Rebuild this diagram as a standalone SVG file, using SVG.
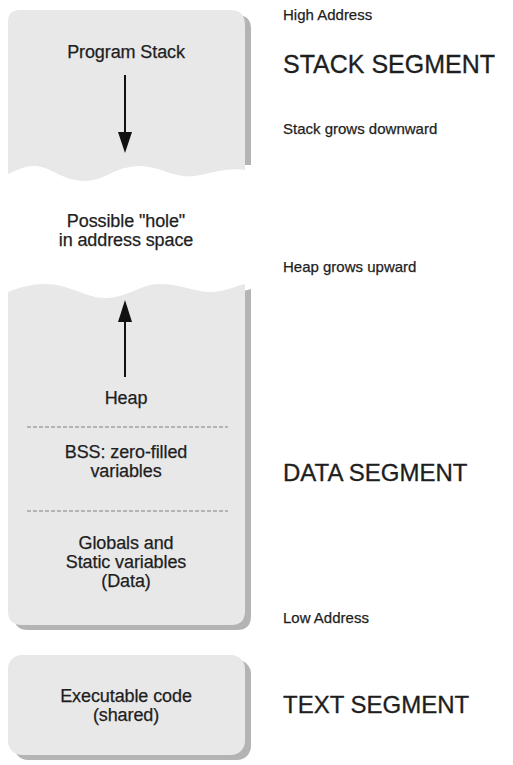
<svg xmlns="http://www.w3.org/2000/svg" width="513" height="765" viewBox="0 0 513 765">
<style>
.box{fill:#e8e8e8}
.shadow{fill:#b4b4b4}
.t{font-family:"Liberation Sans",Arial,sans-serif;font-size:18px;letter-spacing:-0.1px;fill:#1e1e1e;stroke:#1e1e1e;stroke-width:0.25;text-anchor:middle}
.lbl{font-family:"Liberation Sans",Arial,sans-serif;font-size:15px;fill:#1e1e1e;stroke:#1e1e1e;stroke-width:0.25}
.seg{font-family:"Liberation Sans",Arial,sans-serif;font-size:24px;fill:#1e1e1e;stroke:#1e1e1e;stroke-width:0.3}
.dash{stroke:#808080;stroke-width:1;stroke-dasharray:4 2;fill:none}
.arr{stroke:#111;stroke-width:2;fill:none}
</style>
<rect width="513" height="765" fill="#fff"/>
<g id="stack">
<path class="shadow" d="M20,15 L237,15 Q251,15 251,29 L251,165 L20,165 Z"/>
<path class="box" d="M8,22 Q8,10 20,10 L230,10 Q245,10 245,25 L245,170 C228,167 212,173 195,176 C175,179 160,166 140,166 C115,166 105,181 85,181 C62,181 50,166 35,166 C22,166 14,172 8,174 Z"/>
<text class="t" x="126" y="58">Program Stack</text>
</g>
<g id="hole">
<text class="t" x="126" y="227">Possible "hole"</text>
<text class="t" x="126" y="246">in address space</text>
</g>
<g id="data">
<path class="shadow" transform="translate(6,5)" d="M8,292 C20,287 32,284 45,284 C70,284 85,298 105,298 C128,298 140,284 160,284 C180,284 195,292 210,292 C225,292 235,286 245,284 L245,611 Q245,625 231,625 L22,625 Q8,625 8,611 Z"/>
<path class="box" d="M8,292 C20,287 32,284 45,284 C70,284 85,298 105,298 C128,298 140,284 160,284 C180,284 195,292 210,292 C225,292 235,286 245,284 L245,611 Q245,625 231,625 L22,625 Q8,625 8,611 Z"/>
<text class="t" x="126" y="404">Heap</text>
<line class="dash" x1="27" y1="427" x2="228" y2="427"/>
<text class="t" x="126" y="458">BSS: zero-filled</text>
<text class="t" x="126" y="477">variables</text>
<line class="dash" x1="27" y1="511" x2="228" y2="511"/>
<text class="t" x="126" y="549">Globals and</text>
<text class="t" x="126" y="568">Static variables</text>
<text class="t" x="126" y="587">(Data)</text>
</g>
<g id="text">
<rect class="shadow" x="14" y="660" width="237" height="100" rx="14"/>
<rect class="box" x="8" y="655" width="237" height="100" rx="14"/>
<text class="t" x="126" y="702">Executable code</text>
<text class="t" x="126" y="721">(shared)</text>
</g>
<g id="connectors">
<line class="arr" x1="125" y1="75" x2="125" y2="134"/>
<polygon points="118,132 132,132 125,153" fill="#111"/>
<line class="arr" x1="125" y1="320" x2="125" y2="377"/>
<polygon points="118,322 132,322 125,300" fill="#111"/>
</g>
<g id="labels">
<text class="lbl" x="283" y="20">High Address</text>
<text class="seg" x="283" y="73" style="font-size:25px">STACK SEGMENT</text>
<text class="lbl" x="283" y="134">Stack grows downward</text>
<text class="lbl" x="283" y="272">Heap grows upward</text>
<text class="seg" x="283" y="481">DATA SEGMENT</text>
<text class="lbl" x="283" y="623">Low Address</text>
<text class="seg" x="283" y="713">TEXT SEGMENT</text>
</g>
</svg>
